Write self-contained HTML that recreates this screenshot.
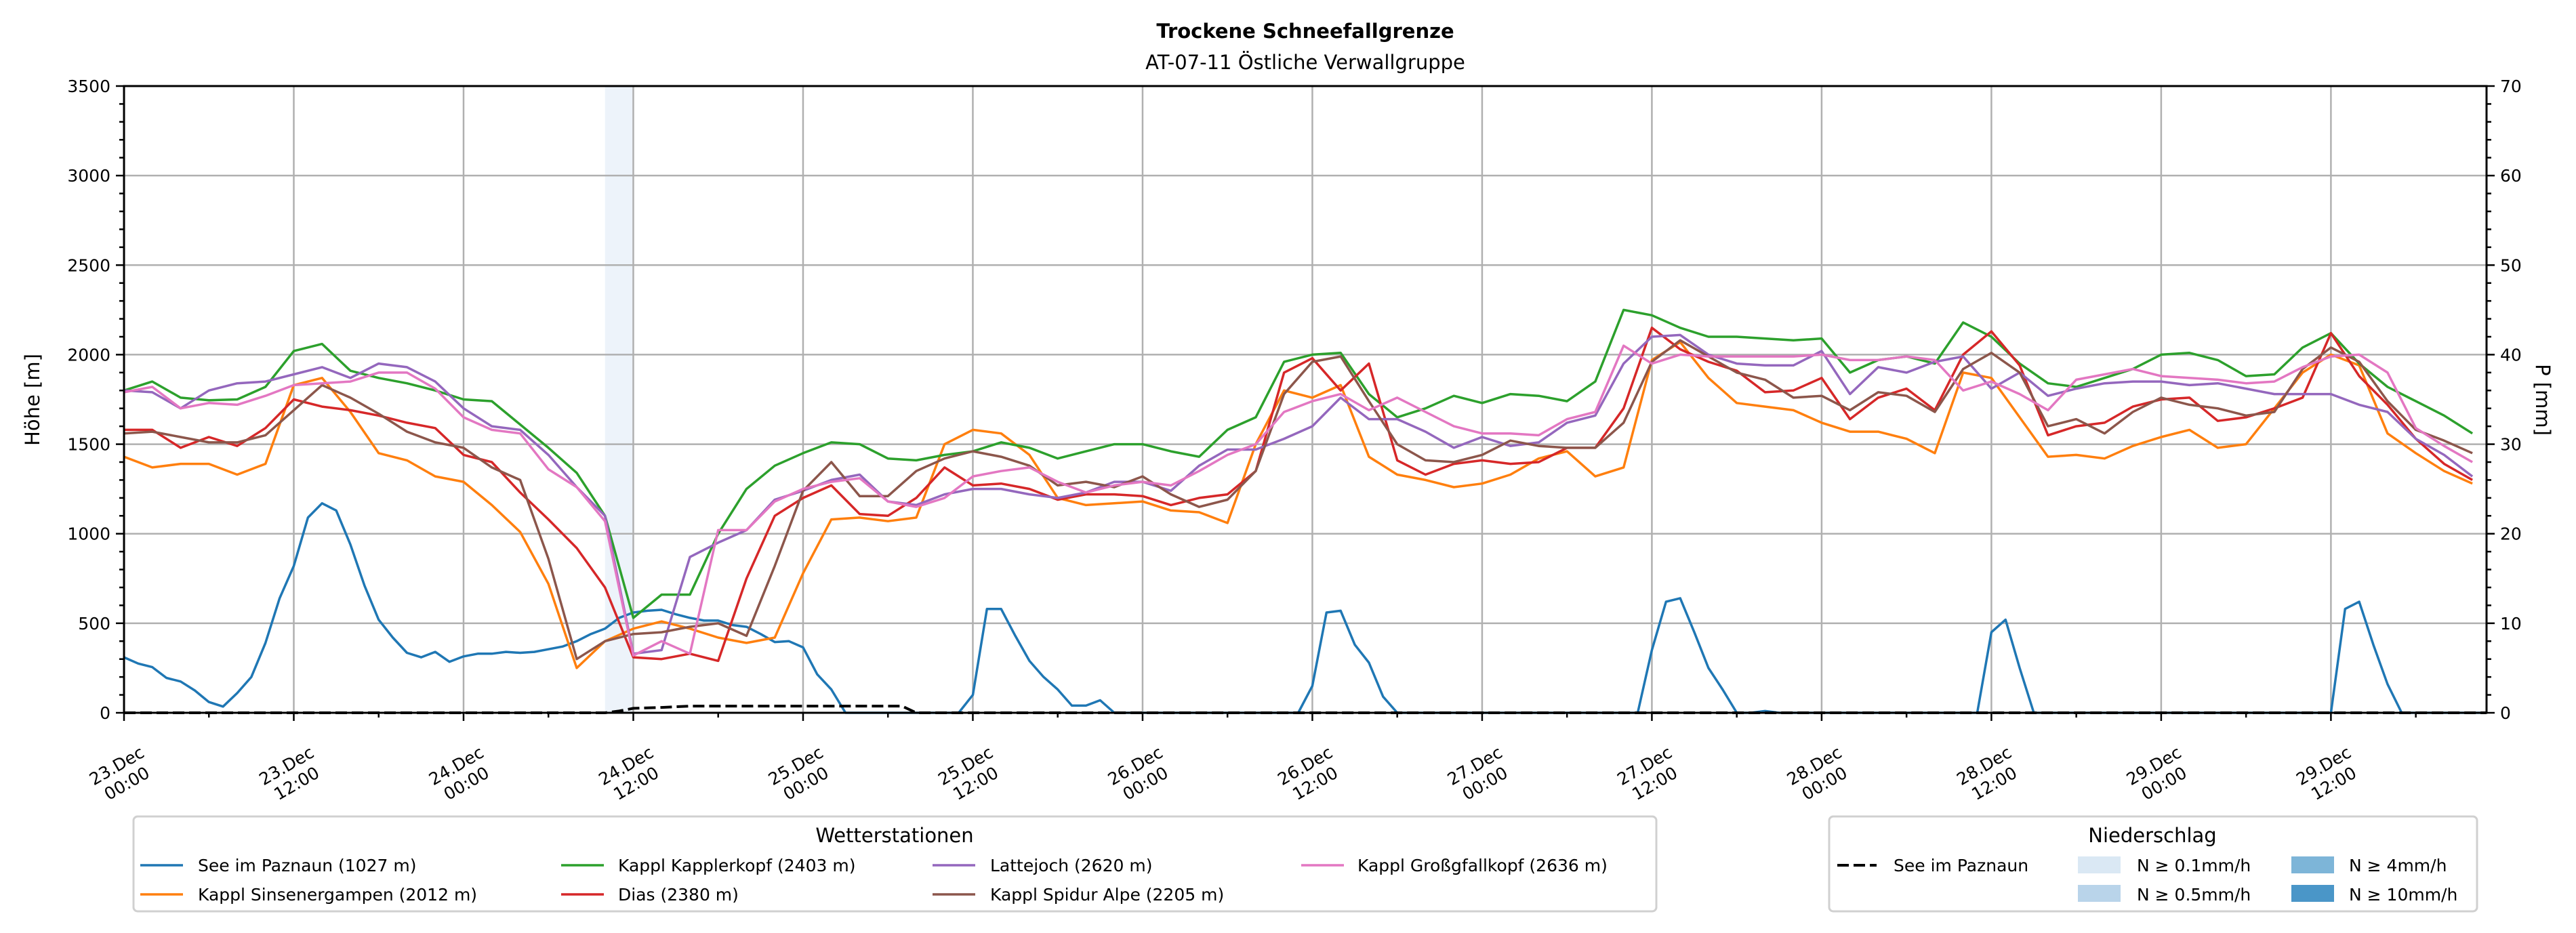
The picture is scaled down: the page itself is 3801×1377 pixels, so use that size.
<!DOCTYPE html>
<html><head><meta charset="utf-8">
<style>
html,body{margin:0;padding:0;background:#fff;}
svg{display:block;font-family:"DejaVu Sans","Liberation Sans",sans-serif;}
</style></head>
<body>
<svg id="chart" width="3801" height="1377" viewBox="0 0 3801 1377" xmlns="http://www.w3.org/2000/svg">
<rect x="0" y="0" width="3801" height="1377" fill="#fff"/>
<text x="1926" y="56" text-anchor="middle" font-size="29" font-weight="bold">Trockene Schneefallgrenze</text>
<text x="1926" y="102" text-anchor="middle" font-size="29">AT-07-11 Östliche Verwallgruppe</text>
<g id="shade"></g>
<g id="grid"></g>
<g id="series"></g>
<g id="axes"></g>
<text transform="translate(58,590) rotate(-90)" text-anchor="middle" font-size="29">Höhe [m]</text>
<text transform="translate(3742,590) rotate(90)" text-anchor="middle" font-size="29">P [mm]</text>

<g>
<rect x="197" y="1205" width="2247" height="140" rx="6" fill="#fff" stroke="#d0d0d0" stroke-width="3"/>
<text x="1320" y="1243" text-anchor="middle" font-size="29">Wetterstationen</text>
<g><line x1="207" y1="1277" x2="270" y2="1277" stroke="#1f77b4" stroke-width="3.5"/><text x="292" y="1286" font-size="25">See im Paznaun (1027 m)</text></g>
<g><line x1="207" y1="1320" x2="270" y2="1320" stroke="#ff7f0e" stroke-width="3.5"/><text x="292" y="1329" font-size="25">Kappl Sinsenergampen (2012 m)</text></g>
<g><line x1="828" y1="1277" x2="891" y2="1277" stroke="#2ca02c" stroke-width="3.5"/><text x="912" y="1286" font-size="25">Kappl Kapplerkopf (2403 m)</text></g>
<g><line x1="828" y1="1320" x2="891" y2="1320" stroke="#d62728" stroke-width="3.5"/><text x="912" y="1329" font-size="25">Dias (2380 m)</text></g>
<g><line x1="1376" y1="1277" x2="1439" y2="1277" stroke="#9467bd" stroke-width="3.5"/><text x="1461" y="1286" font-size="25">Lattejoch (2620 m)</text></g>
<g><line x1="1376" y1="1320" x2="1439" y2="1320" stroke="#8c564b" stroke-width="3.5"/><text x="1461" y="1329" font-size="25">Kappl Spidur Alpe (2205 m)</text></g>
<g><line x1="1920" y1="1277" x2="1983" y2="1277" stroke="#e377c2" stroke-width="3.5"/><text x="2003" y="1286" font-size="25">Kappl Großgfallkopf (2636 m)</text></g>
</g>

<g>
<rect x="2699" y="1205" width="956" height="140" rx="6" fill="#fff" stroke="#d0d0d0" stroke-width="3"/>
<text x="3176" y="1243" text-anchor="middle" font-size="29">Niederschlag</text>
<g><line x1="2711" y1="1277" x2="2769" y2="1277" stroke="#000" stroke-width="4" stroke-dasharray="17,7"/><text x="2794" y="1286" font-size="25">See im Paznaun</text></g>
<g><rect x="3066" y="1264" width="63" height="25" fill="#dae8f4"/><text x="3153" y="1286" font-size="25">N ≥ 0.1mm/h</text></g>
<g><rect x="3066" y="1306" width="63" height="25" fill="#b9d4ea"/><text x="3153" y="1329" font-size="25">N ≥ 0.5mm/h</text></g>
<g><rect x="3381" y="1264" width="63" height="25" fill="#7db5d8"/><text x="3466" y="1286" font-size="25">N ≥ 4mm/h</text></g>
<g><rect x="3381" y="1306" width="63" height="25" fill="#4a96c8"/><text x="3466" y="1329" font-size="25">N ≥ 10mm/h</text></g>
</g>
</svg>
<script>
const hourlyHours = Array.from({length:168},(_, i)=>i);
const twoHourHours = Array.from({length:84},(_, i)=>i*2);
const xTickLabels = ["23.Dec|00:00","23.Dec|12:00","24.Dec|00:00","24.Dec|12:00","25.Dec|00:00","25.Dec|12:00","26.Dec|00:00","26.Dec|12:00","27.Dec|00:00","27.Dec|12:00","28.Dec|00:00","28.Dec|12:00","29.Dec|00:00","29.Dec|12:00"];
const leftTicks = [0,500,1000,1500,2000,2500,3000,3500];
const rightTicks = [0,10,20,30,40,50,60,70];
const shadeStart = [34];
const shadeEnd = [36];
const seeVals = [310,275,255,195,175,125,60,35,110,200,
390,640,820,1090,1170,1130,940,710,520,420,
335,310,340,285,315,330,330,340,335,340,
355,370,400,440,470,530,560,570,575,550,
530,515,515,490,480,440,395,400,365,215,
130,0,0,0,0,0,0,0,0,0,
100,580,580,430,290,200,130,40,40,70,
0,0,0,0,0,0,0,0,0,0,
0,0,0,0,150,560,570,380,280,90,
0,0,0,0,0,0,0,0,0,0,
0,0,0,0,0,0,0,0,350,620,
640,450,250,130,0,0,10,0,0,0,
0,0,0,0,0,0,0,0,0,0,
0,0,450,520,250,0,0,0,0,0,
0,0,0,0,0,0,0,0,0,0,
0,0,0,0,0,0,0,580,620,380,
160,0,0,0,0,0,0,0];
const sinsenVals = [1430,1370,1390,1390,1330,1390,1830,1870,1680,1450,1410,1320,
1290,1160,1010,720,250,400,470,510,470,420,390,420,
780,1080,1090,1070,1090,1500,1580,1560,1440,1200,1160,1170,
1180,1130,1120,1060,1500,1800,1760,1830,1430,1330,1300,1260,
1280,1330,1420,1460,1320,1370,1970,2070,1870,1730,1710,1690,
1620,1570,1570,1530,1450,1900,1870,1650,1430,1440,1420,1490,
1540,1580,1480,1500,1700,1900,2000,1940,1560,1450,1350,1280];
const kapplerVals = [1800,1850,1760,1745,1750,1820,2020,2060,1910,1870,1840,1800,
1750,1740,1610,1480,1340,1100,530,660,660,1000,1250,1380,
1450,1510,1500,1420,1410,1440,1460,1510,1480,1420,1460,1500,
1500,1460,1430,1580,1650,1960,2000,2010,1780,1650,1700,1770,
1730,1780,1770,1740,1850,2250,2220,2150,2100,2100,2090,2080,
2090,1900,1970,1990,1950,2180,2100,1950,1840,1820,1870,1920,
2000,2010,1970,1880,1890,2040,2120,1950,1820,1740,1660,1560];
const diasVals = [1580,1580,1480,1540,1490,1590,1750,1710,1690,1660,1620,1590,
1440,1400,1230,1080,920,700,310,300,330,290,750,1100,
1200,1270,1110,1100,1200,1370,1270,1280,1250,1190,1220,1220,
1210,1160,1200,1220,1350,1900,1980,1800,1950,1410,1330,1390,
1410,1390,1400,1480,1480,1700,2150,2030,1960,1910,1790,1800,
1870,1640,1760,1810,1690,2000,2130,1940,1550,1600,1620,1710,
1750,1760,1630,1650,1700,1760,2120,1880,1720,1530,1390,1300];
const latteVals = [1800,1790,1700,1800,1840,1850,1890,1930,1870,1950,1930,1850,
1700,1600,1580,1440,1260,1100,330,350,870,950,1020,1190,
1240,1300,1330,1180,1160,1220,1250,1250,1220,1200,1230,1290,
1290,1240,1380,1470,1470,1530,1600,1760,1640,1640,1570,1480,
1540,1490,1510,1620,1660,1950,2100,2110,2000,1950,1940,1940,
2020,1780,1930,1900,1960,1990,1810,1900,1770,1810,1840,1850,
1850,1830,1840,1810,1780,1780,1780,1720,1680,1530,1440,1320];
const spidurVals = [1560,1570,1540,1510,1510,1550,1690,1830,1760,1670,1570,1510,
1480,1370,1300,860,300,400,440,450,480,500,430,820,
1240,1400,1210,1210,1350,1420,1460,1430,1380,1270,1290,1260,
1320,1220,1150,1190,1350,1780,1960,1990,1740,1500,1410,1400,
1440,1520,1490,1480,1480,1620,1960,2080,1990,1900,1860,1760,
1770,1690,1790,1770,1680,1920,2010,1900,1600,1640,1560,1680,
1760,1720,1700,1660,1680,1920,2040,1960,1740,1580,1520,1450];
const grossVals = [1790,1820,1700,1730,1720,1770,1830,1840,1850,1900,1900,1810,
1650,1580,1560,1360,1260,1070,320,400,330,1020,1020,1180,
1250,1290,1310,1180,1150,1200,1320,1350,1370,1290,1230,1270,
1290,1270,1350,1440,1500,1680,1740,1780,1690,1760,1680,1600,
1560,1560,1550,1640,1680,2050,1950,2000,1990,1990,1990,1990,
2000,1970,1970,1990,1970,1800,1850,1780,1690,1860,1890,1920,
1880,1870,1860,1840,1850,1930,1990,2000,1900,1590,1490,1400];
const precipHours = [0,34,35,36,38,40,55,56,167];
const precipVals = [0,0,0.2,0.5,0.6,0.75,0.75,0,0];

const NS='http://www.w3.org/2000/svg';
const L=183,R=3669,T=127,B=1052,HMAX=167;
function xs(h){return L+h*(R-L)/HMAX;}
function yl(v){return B-v*(B-T)/3500;}
function yr(p){return B-p*(B-T)/70;}
function mk(tag,attrs,parent){const e=document.createElementNS(NS,tag);for(const k in attrs)e.setAttribute(k,attrs[k]);parent.appendChild(e);return e;}
const gShade=document.getElementById('shade'),gGrid=document.getElementById('grid'),gSer=document.getElementById('series'),gAx=document.getElementById('axes');

for(let i=0;i<shadeStart.length;i++){
  const r=mk('rect',{x:xs(shadeStart[i]),y:T,width:xs(shadeEnd[i])-xs(shadeStart[i]),height:B-T,fill:'#edf3fa'},gShade);
  
  
}
for(let i=0;i<xTickLabels.length;i++){
  const x=xs(i*12);
  const g=mk('line',{x1:x,y1:T,x2:x,y2:B,stroke:'#b0b0b0','stroke-width':2.5},gGrid);
  
  
}
for(const v of leftTicks){
  const g=mk('line',{x1:L,y1:yl(v),x2:R,y2:yl(v),stroke:'#b0b0b0','stroke-width':2.5},gGrid);
  
  
}
function poly(hours,vals,yfn,color,name,dash){
  const pts=hours.map((h,i)=>xs(h).toFixed(1)+','+yfn(vals[i]).toFixed(1)).join(' ');
  const p=mk('polyline',{points:pts,fill:'none',stroke:color,'stroke-width':dash?4:3.5,'stroke-linejoin':'round'},gSer);
  if(dash)p.setAttribute('stroke-dasharray','17,7');
  
  
}
poly(hourlyHours,seeVals,yl,'#1f77b4','line-see-im-paznaun');
poly(twoHourHours,sinsenVals,yl,'#ff7f0e','line-kappl-sinsenergampen');
poly(twoHourHours,kapplerVals,yl,'#2ca02c','line-kappl-kapplerkopf');
poly(twoHourHours,diasVals,yl,'#d62728','line-dias');
poly(twoHourHours,latteVals,yl,'#9467bd','line-lattejoch');
poly(twoHourHours,spidurVals,yl,'#8c564b','line-kappl-spidur-alpe');
poly(twoHourHours,grossVals,yl,'#e377c2','line-kappl-grossgfallkopf');
poly(precipHours,precipVals,yr,'#000','line-precip-see-im-paznaun',true);

const frame=mk('rect',{x:L,y:T,width:R-L,height:B-T,fill:'none',stroke:'#000','stroke-width':3},gAx);


for(let h=0;h<=HMAX;h+=6){
  const major=h%12===0;
  mk('line',{x1:xs(h),y1:B,x2:xs(h),y2:B+(major?12:7),stroke:'#000','stroke-width':2.5},gAx);
}
for(let i=0;i<xTickLabels.length;i++){
  const parts=xTickLabels[i].split('|');
  const cx=xs(i*12)-4,cy=1142;
  const t=mk('text',{transform:`translate(${cx},${cy}) rotate(-30)`,'text-anchor':'middle','font-size':25},gAx);
  
  
  mk('tspan',{x:0,y:-5},t).textContent=parts[0];
  mk('tspan',{x:0,y:25},t).textContent=parts[1];
}
for(let v=0;v<=3500;v+=100){
  const major=v%500===0;
  mk('line',{x1:L,y1:yl(v),x2:L-(major?12:7),y2:yl(v),stroke:'#000','stroke-width':2.5},gAx);
}
for(const v of leftTicks){
  const t=mk('text',{x:L-20,y:yl(v)+9,'text-anchor':'end','font-size':25},gAx);
  t.textContent=v;
  
  
}
for(let p=0;p<=70;p+=2){
  const major=p%10===0;
  mk('line',{x1:R,y1:yr(p),x2:R+(major?12:7),y2:yr(p),stroke:'#000','stroke-width':2.5},gAx);
}
for(const p of rightTicks){
  const t=mk('text',{x:R+20,y:yr(p)+9,'text-anchor':'start','font-size':25},gAx);
  t.textContent=p;
  
  
}
</script>
</body></html>
